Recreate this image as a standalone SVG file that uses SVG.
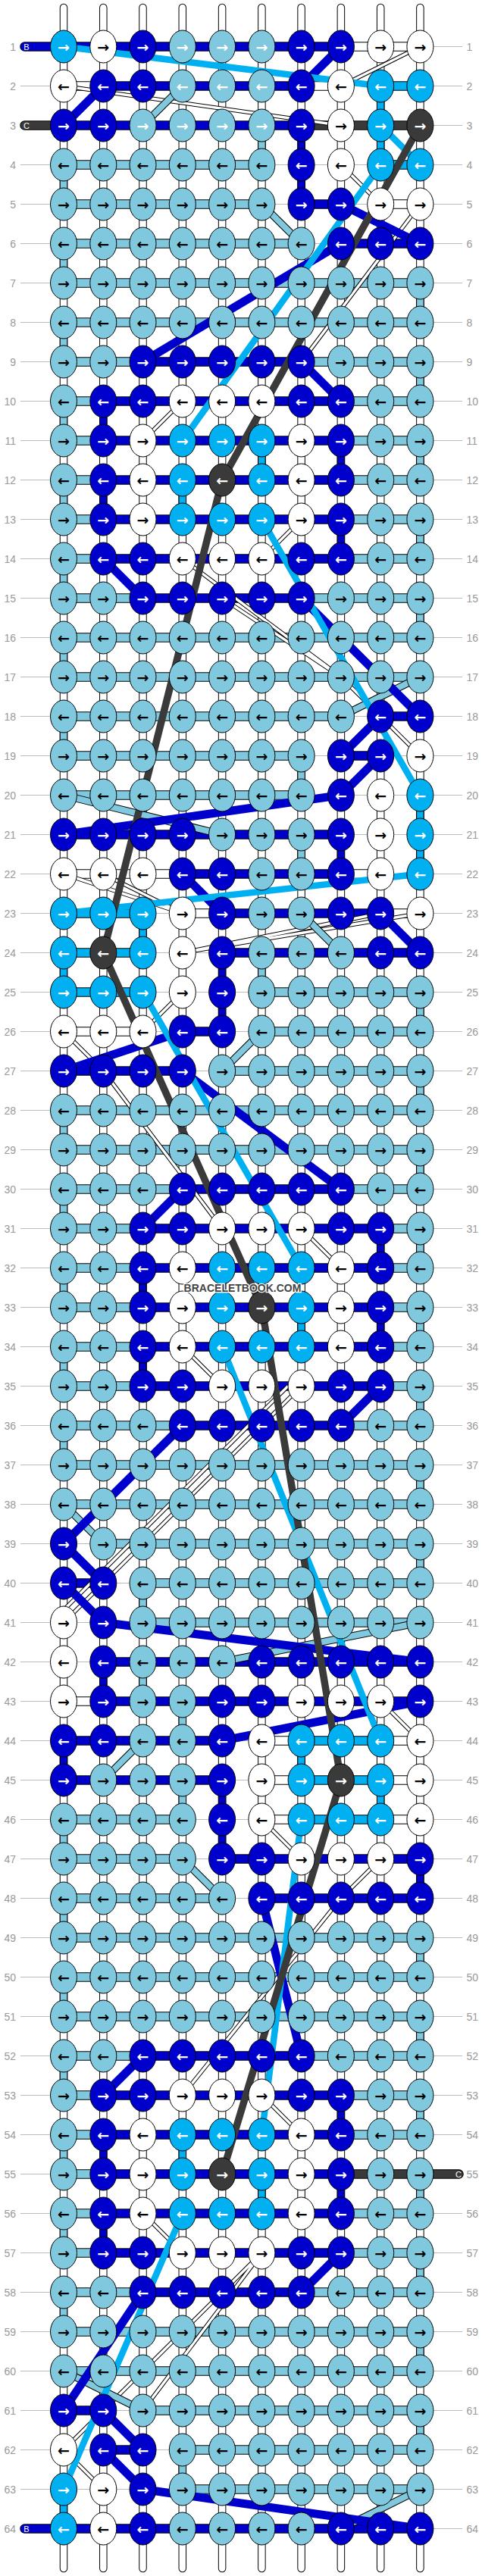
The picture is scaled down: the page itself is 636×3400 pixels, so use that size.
<svg xmlns="http://www.w3.org/2000/svg" width="636" height="3400" viewBox="0 0 636 3400">
<style>
.n ellipse{rx:17.5px;ry:21.5px;stroke:#000;stroke-width:1}
.n text{font-family:"DejaVu Sans",sans-serif;font-weight:bold;font-size:19px;text-anchor:middle;dominant-baseline:central}
.L ellipse,.l ellipse{fill:#80c8dd}.L text{fill:#000}.l text{fill:#fff}
.W ellipse{fill:#fff}.W text{fill:#000}
.D ellipse{fill:#0000cc}.D text{fill:#fff}
.C ellipse{fill:#00b0f0}.C text{fill:#fff}
.G ellipse{fill:#3a3a3a}.G text{fill:#fff}
.lab text{font-family:"Liberation Sans",Arial,sans-serif;font-size:14px;fill:#999;dominant-baseline:central}
#connectors{fill:none;stroke-linejoin:round}
.o1{stroke:#000;stroke-width:10.5}.f1{stroke-width:8.5}
.o2{stroke:#000;stroke-width:12.5}.f2{stroke-width:10.5}
.cL{stroke:#80c8dd}.cD{stroke:#0000cc}.cC{stroke:#00b0f0}.cG{stroke:#3a3a3a}.cW{stroke:#fff}
.rc{stroke-linecap:round}
.ow{stroke:#000;stroke-width:5.5}.fw{stroke:#fff;stroke-width:3.5}
.oL{stroke:#000;stroke-width:10}.fL{stroke:#80c8dd;stroke-width:8}
.dD{stroke:#0000cc;stroke-width:11}.dC{stroke:#00b0f0;stroke-width:8.5}.dG{stroke:#3a3a3a;stroke-width:9.5}
.stub{font-family:"Liberation Sans",Arial,sans-serif;font-size:11px;fill:#fff;text-anchor:middle;dominant-baseline:central}
.wm{font-family:"Liberation Sans",Arial,sans-serif;font-weight:bold;font-size:14px;fill:#444;stroke:#fff;stroke-width:2.5;paint-order:stroke;text-anchor:middle;dominant-baseline:central}
</style>
<defs>
<path id="cols" d="M84 10V3390M136.3 10V3390M188.5 10V3390M240.8 10V3390M293.1 10V3390M345.4 10V3390M397.6 10V3390M449.9 10V3390M502.2 10V3390M554.4 10V3390"/>
<path id="vC" d="M502.2 113.5V217.5M345.4 581.5V633.5M240.8 633.5V685.5M554.4 1049.5V1153.5M188.5 1205.5V1257.5M84 1257.5V1309.5M293.1 1673.5V1725.5M397.6 1725.5V1777.5M397.6 2297.5V2349.5M502.2 2349.5V2401.5M240.8 2817.5V2869.5M345.4 2869.5V2921.5M84 3285.5V3337.5"/>
<path id="vD" d="M397.6 165.5V269.5M136.3 529.5V581.5M449.9 581.5V633.5M136.3 633.5V685.5M449.9 685.5V737.5M449.9 1101.5V1153.5M293.1 1257.5V1361.5M502.2 1621.5V1673.5M188.5 1673.5V1725.5M502.2 1725.5V1777.5M188.5 1777.5V1829.5M136.3 2193.5V2245.5M84 2297.5V2349.5M293.1 2349.5V2453.5M554.4 2453.5V2505.5M449.9 2765.5V2817.5M136.3 2817.5V2869.5M449.9 2869.5V2921.5M136.3 2921.5V2973.5"/>
<path id="vL" d="M345.4 165.5V217.5M84 217.5V269.5M84 321.5V373.5M554.4 373.5V425.5M84 425.5V477.5M554.4 477.5V529.5M84 529.5V581.5M554.4 581.5V633.5M84 633.5V685.5M554.4 685.5V737.5M84 737.5V789.5M554.4 789.5V841.5M84 841.5V893.5M84 945.5V997.5M397.6 997.5V1049.5M397.6 1101.5V1153.5M345.4 1257.5V1309.5M554.4 1309.5V1361.5M554.4 1413.5V1465.5M84 1465.5V1517.5M554.4 1517.5V1569.5M84 1569.5V1621.5M554.4 1621.5V1673.5M84 1673.5V1725.5M554.4 1725.5V1777.5M84 1777.5V1829.5M554.4 1829.5V1881.5M84 1881.5V1933.5M554.4 1933.5V1985.5M554.4 2037.5V2089.5M188.5 2089.5V2141.5M188.5 2193.5V2245.5M240.8 2245.5V2297.5M240.8 2349.5V2401.5M84 2401.5V2453.5M84 2505.5V2557.5M554.4 2557.5V2609.5M84 2609.5V2661.5M554.4 2661.5V2713.5M84 2713.5V2765.5M554.4 2765.5V2817.5M84 2817.5V2869.5M554.4 2869.5V2921.5M84 2921.5V2973.5M554.4 2973.5V3025.5M84 3025.5V3077.5M554.4 3077.5V3129.5M554.4 3181.5V3233.5M240.8 3233.5V3285.5"/>
<path id="hL" d="M84 217.5H345.4M84 269.5H345.4M84 321.5H397.6M84 373.5H554.4M84 425.5H554.4M84 477.5H188.5M397.6 477.5H554.4M84 529.5H136.3M449.9 529.5H554.4M84 581.5H136.3M449.9 581.5H554.4M84 633.5H136.3M449.9 633.5H554.4M84 685.5H136.3M449.9 685.5H554.4M84 737.5H136.3M449.9 737.5H554.4M84 789.5H188.5M397.6 789.5H554.4M84 841.5H554.4M84 893.5H554.4M84 945.5H449.9M84 997.5H397.6M84 1049.5H397.6M345.4 1309.5H554.4M345.4 1361.5H554.4M293.1 1413.5H554.4M84 1465.5H554.4M84 1517.5H554.4M84 1569.5H240.8M449.9 1569.5H554.4M84 1621.5H188.5M502.2 1621.5H554.4M84 1673.5H188.5M502.2 1673.5H554.4M84 1725.5H188.5M502.2 1725.5H554.4M84 1777.5H188.5M502.2 1777.5H554.4M84 1829.5H188.5M502.2 1829.5H554.4M84 1881.5H240.8M449.9 1881.5H554.4M84 1933.5H554.4M84 1985.5H554.4M136.3 2037.5H554.4M188.5 2089.5H554.4M188.5 2141.5H554.4M84 2401.5H240.8M84 2453.5H240.8M84 2505.5H293.1M84 2557.5H554.4M84 2609.5H554.4M84 2661.5H554.4M84 2713.5H188.5M397.6 2713.5H554.4M84 2765.5H136.3M449.9 2765.5H554.4M84 2817.5H136.3M449.9 2817.5H554.4M84 2869.5H136.3M84 2921.5H136.3M449.9 2921.5H554.4M84 2973.5H136.3M449.9 2973.5H554.4M84 3025.5H188.5M397.6 3025.5H554.4M84 3077.5H554.4M84 3129.5H554.4M188.5 3181.5H554.4M240.8 3233.5H554.4M240.8 3285.5H554.4"/>
<path id="hD" d="M84 61.5H449.9M136.3 113.5H397.6M84 165.5H397.6M397.6 269.5H449.9M449.9 321.5H554.4M188.5 477.5H397.6M136.3 529.5H449.9M136.3 581.5H449.9M136.3 633.5H449.9M136.3 685.5H449.9M136.3 737.5H449.9M188.5 789.5H397.6M502.2 945.5H554.4M449.9 997.5H502.2M84 1101.5H449.9M240.8 1153.5H449.9M293.1 1205.5H502.2M293.1 1257.5H554.4M240.8 1361.5H293.1M84 1413.5H240.8M240.8 1569.5H449.9M188.5 1621.5H502.2M188.5 1673.5H502.2M188.5 1725.5H502.2M188.5 1777.5H502.2M188.5 1829.5H502.2M240.8 1881.5H449.9M84 2089.5H136.3M136.3 2193.5H554.4M136.3 2245.5H554.4M84 2297.5H293.1M84 2349.5H293.1M293.1 2453.5H554.4M345.4 2505.5H554.4M188.5 2713.5H397.6M136.3 2765.5H449.9M136.3 2817.5H449.9M136.3 2869.5H449.9M136.3 2921.5H449.9M136.3 2973.5H449.9M188.5 3025.5H397.6M84 3181.5H136.3M136.3 3233.5H188.5M84 3337.5H554.4"/>
<path id="hW" d="M449.9 61.5H554.4M84 113.5H136.3M397.6 113.5H449.9M502.2 269.5H554.4M84 1153.5H240.8M449.9 1153.5H502.2M240.8 1205.5H293.1M502.2 1205.5H554.4M84 1361.5H188.5M84 2245.5H136.3M345.4 2297.5H397.6M502.2 2297.5H554.4M345.4 2349.5H397.6M502.2 2349.5H554.4M345.4 2401.5H397.6M502.2 2401.5H554.4"/>
<path id="hC" d="M502.2 113.5H554.4M502.2 217.5H554.4M84 1205.5H188.5M84 1257.5H188.5M84 1309.5H188.5M397.6 2297.5H502.2M397.6 2349.5H502.2M397.6 2401.5H502.2"/>
<path id="hG" d="M397.6 165.5H554.4M449.9 2869.5H554.4"/>
<path id="sD" d="M32.5 61.5H84M32.5 3337.5H84"/>
<path id="sG" d="M32.5 165.5H84M554.4 2869.5H605.5"/>
<path id="dW" d="M554.4 61.5L449.9 113.5M84 113.5L449.9 165.5M449.9 217.5L502.2 269.5M554.4 269.5L397.6 477.5M240.8 529.5L188.5 581.5M397.6 685.5L345.4 737.5M240.8 737.5L449.9 893.5L554.4 997.5M293.1 789.5L449.9 893.5M84 1153.5L240.8 1205.5M136.3 1153.5L240.8 1205.5M554.4 1205.5L240.8 1257.5M502.2 1205.5L240.8 1257.5M240.8 1309.5L188.5 1361.5M84 1361.5L136.3 1413.5L293.1 1621.5M397.6 1621.5L449.9 1673.5M240.8 1777.5L293.1 1829.5M397.6 1829.5L84 2141.5M380 1829.5L84 2125M502.2 2245.5L554.4 2297.5M345.4 2401.5L397.6 2453.5M502.2 2453.5L449.9 2505.5L240.8 2765.5M345.4 2765.5L397.6 2817.5M188.5 2921.5L240.8 2973.5M345.4 2973.5L188.5 3181.5M345.4 2973.5L136.3 3181.5M136.3 3181.5L84 3233.5L136.3 3285.5"/>
<path id="dL" d="M240.8 113.5L188.5 165.5M345.4 269.5L397.6 321.5M554.4 893.5L449.9 945.5M84 1049.5L293.1 1101.5M397.6 1205.5L449.9 1257.5M345.4 1361.5L293.1 1413.5M84 1985.5L136.3 2037.5M554.4 2141.5L293.1 2193.5M188.5 2297.5L136.3 2349.5M240.8 2453.5L293.1 2505.5M84 3129.5L188.5 3181.5M554.4 3285.5L449.9 3337.5"/>
</defs>
<rect width="636" height="3400" fill="#fff"/>
<g id="rowlabels" class="lab">
<path d="M27 61.5H610M27 113.5H610M27 165.5H610M27 217.5H610M27 269.5H610M27 321.5H610M27 373.5H610M27 425.5H610M27 477.5H610M27 529.5H610M27 581.5H610M27 633.5H610M27 685.5H610M27 737.5H610M27 789.5H610M27 841.5H610M27 893.5H610M27 945.5H610M27 997.5H610M27 1049.5H610M27 1101.5H610M27 1153.5H610M27 1205.5H610M27 1257.5H610M27 1309.5H610M27 1361.5H610M27 1413.5H610M27 1465.5H610M27 1517.5H610M27 1569.5H610M27 1621.5H610M27 1673.5H610M27 1725.5H610M27 1777.5H610M27 1829.5H610M27 1881.5H610M27 1933.5H610M27 1985.5H610M27 2037.5H610M27 2089.5H610M27 2141.5H610M27 2193.5H610M27 2245.5H610M27 2297.5H610M27 2349.5H610M27 2401.5H610M27 2453.5H610M27 2505.5H610M27 2557.5H610M27 2609.5H610M27 2661.5H610M27 2713.5H610M27 2765.5H610M27 2817.5H610M27 2869.5H610M27 2921.5H610M27 2973.5H610M27 3025.5H610M27 3077.5H610M27 3129.5H610M27 3181.5H610M27 3233.5H610M27 3285.5H610M27 3337.5H610" stroke="#bbb" stroke-width="1" fill="none"/>
<g text-anchor="end">
<text x="21" y="61.5">1</text><text x="21" y="113.5">2</text><text x="21" y="165.5">3</text><text x="21" y="217.5">4</text><text x="21" y="269.5">5</text><text x="21" y="321.5">6</text><text x="21" y="373.5">7</text><text x="21" y="425.5">8</text><text x="21" y="477.5">9</text><text x="21" y="529.5">10</text><text x="21" y="581.5">11</text><text x="21" y="633.5">12</text><text x="21" y="685.5">13</text><text x="21" y="737.5">14</text><text x="21" y="789.5">15</text><text x="21" y="841.5">16</text><text x="21" y="893.5">17</text><text x="21" y="945.5">18</text><text x="21" y="997.5">19</text><text x="21" y="1049.5">20</text><text x="21" y="1101.5">21</text><text x="21" y="1153.5">22</text><text x="21" y="1205.5">23</text><text x="21" y="1257.5">24</text><text x="21" y="1309.5">25</text><text x="21" y="1361.5">26</text><text x="21" y="1413.5">27</text><text x="21" y="1465.5">28</text><text x="21" y="1517.5">29</text><text x="21" y="1569.5">30</text><text x="21" y="1621.5">31</text><text x="21" y="1673.5">32</text><text x="21" y="1725.5">33</text><text x="21" y="1777.5">34</text><text x="21" y="1829.5">35</text><text x="21" y="1881.5">36</text><text x="21" y="1933.5">37</text><text x="21" y="1985.5">38</text><text x="21" y="2037.5">39</text><text x="21" y="2089.5">40</text><text x="21" y="2141.5">41</text><text x="21" y="2193.5">42</text><text x="21" y="2245.5">43</text><text x="21" y="2297.5">44</text><text x="21" y="2349.5">45</text><text x="21" y="2401.5">46</text><text x="21" y="2453.5">47</text><text x="21" y="2505.5">48</text><text x="21" y="2557.5">49</text><text x="21" y="2609.5">50</text><text x="21" y="2661.5">51</text><text x="21" y="2713.5">52</text><text x="21" y="2765.5">53</text><text x="21" y="2817.5">54</text><text x="21" y="2869.5">55</text><text x="21" y="2921.5">56</text><text x="21" y="2973.5">57</text><text x="21" y="3025.5">58</text><text x="21" y="3077.5">59</text><text x="21" y="3129.5">60</text><text x="21" y="3181.5">61</text><text x="21" y="3233.5">62</text><text x="21" y="3285.5">63</text><text x="21" y="3337.5">64</text>
</g>
<g text-anchor="start">
<text x="615.5" y="61.5">1</text><text x="615.5" y="113.5">2</text><text x="615.5" y="165.5">3</text><text x="615.5" y="217.5">4</text><text x="615.5" y="269.5">5</text><text x="615.5" y="321.5">6</text><text x="615.5" y="373.5">7</text><text x="615.5" y="425.5">8</text><text x="615.5" y="477.5">9</text><text x="615.5" y="529.5">10</text><text x="615.5" y="581.5">11</text><text x="615.5" y="633.5">12</text><text x="615.5" y="685.5">13</text><text x="615.5" y="737.5">14</text><text x="615.5" y="789.5">15</text><text x="615.5" y="841.5">16</text><text x="615.5" y="893.5">17</text><text x="615.5" y="945.5">18</text><text x="615.5" y="997.5">19</text><text x="615.5" y="1049.5">20</text><text x="615.5" y="1101.5">21</text><text x="615.5" y="1153.5">22</text><text x="615.5" y="1205.5">23</text><text x="615.5" y="1257.5">24</text><text x="615.5" y="1309.5">25</text><text x="615.5" y="1361.5">26</text><text x="615.5" y="1413.5">27</text><text x="615.5" y="1465.5">28</text><text x="615.5" y="1517.5">29</text><text x="615.5" y="1569.5">30</text><text x="615.5" y="1621.5">31</text><text x="615.5" y="1673.5">32</text><text x="615.5" y="1725.5">33</text><text x="615.5" y="1777.5">34</text><text x="615.5" y="1829.5">35</text><text x="615.5" y="1881.5">36</text><text x="615.5" y="1933.5">37</text><text x="615.5" y="1985.5">38</text><text x="615.5" y="2037.5">39</text><text x="615.5" y="2089.5">40</text><text x="615.5" y="2141.5">41</text><text x="615.5" y="2193.5">42</text><text x="615.5" y="2245.5">43</text><text x="615.5" y="2297.5">44</text><text x="615.5" y="2349.5">45</text><text x="615.5" y="2401.5">46</text><text x="615.5" y="2453.5">47</text><text x="615.5" y="2505.5">48</text><text x="615.5" y="2557.5">49</text><text x="615.5" y="2609.5">50</text><text x="615.5" y="2661.5">51</text><text x="615.5" y="2713.5">52</text><text x="615.5" y="2765.5">53</text><text x="615.5" y="2817.5">54</text><text x="615.5" y="2869.5">55</text><text x="615.5" y="2921.5">56</text><text x="615.5" y="2973.5">57</text><text x="615.5" y="3025.5">58</text><text x="615.5" y="3077.5">59</text><text x="615.5" y="3129.5">60</text><text x="615.5" y="3181.5">61</text><text x="615.5" y="3233.5">62</text><text x="615.5" y="3285.5">63</text><text x="615.5" y="3337.5">64</text>
</g>
</g>
<g id="connectors">
<use href="#cols" class="o1 rc"/><use href="#cols" class="f1 cW rc"/>
<use href="#vC" class="o1"/><use href="#vD" class="o1"/><use href="#vL" class="o1"/>
<use href="#vC" class="f1 cC"/><use href="#vD" class="f1 cD"/><use href="#vL" class="f1 cL"/>
<use href="#hL" class="o2"/><use href="#hD" class="o2"/><use href="#hW" class="o2"/><use href="#hC" class="o2"/><use href="#hG" class="o2"/>
<use href="#hL" class="f2 cL"/><use href="#hD" class="f2 cD"/><use href="#hW" class="f2 cW"/><use href="#hC" class="f2 cC"/><use href="#hG" class="f2 cG"/>
<use href="#sD" class="o2 rc"/><use href="#sG" class="o2 rc"/><use href="#sD" class="f2 cD rc"/><use href="#sG" class="f2 cG rc"/>
<use href="#dW" class="ow"/><use href="#dW" class="fw"/>
<use href="#dL" class="oL"/><use href="#dL" class="fL"/>
<path class="dD" d="M449.9 61.5L397.6 113.5M136.3 113.5L84 165.5M449.9 269.5L554.4 321.5M449.9 321.5L188.5 477.5M397.6 477.5L449.9 529.5M136.3 737.5L188.5 789.5M397.6 789.5L554.4 945.5M502.2 945.5L449.9 997.5M502.2 997.5L449.9 1049.5M449.9 1049.5L84 1101.5M240.8 1153.5L293.1 1205.5M502.2 1205.5L554.4 1257.5M240.8 1361.5L84 1413.5M240.8 1413.5L449.9 1569.5M240.8 1569.5L188.5 1621.5M502.2 1829.5L449.9 1881.5M240.8 1881.5L84 2037.5L136.3 2089.5M84 2089.5L136.3 2141.5L554.4 2193.5M554.4 2245.5L293.1 2297.5M345.4 2505.5L397.6 2713.5M188.5 2713.5L136.3 2765.5M449.9 2973.5L397.6 3025.5M188.5 3025.5L84 3181.5M136.3 3181.5L188.5 3233.5M136.3 3233.5L188.5 3285.5L554.4 3337.5"/>
<path class="dC" d="M84 61.5L502.2 113.5M502.2 165.5L554.4 217.5M502.2 217.5L240.8 581.5M345.4 685.5L554.4 1049.5M554.4 1153.5L84 1205.5M188.5 1309.5L397.6 1673.5M293.1 1777.5L502.2 2297.5M397.6 2401.5L345.4 2817.5M240.8 2921.5L84 3285.5"/>
<path class="dG" d="M554.4 165.5L293.1 633.5L136.3 1257.5L345.4 1725.5L449.9 2349.5L293.1 2869.5"/>
<text class="stub" x="35" y="61.5">B</text><text class="stub" x="35" y="165.5">C</text><text class="stub" x="35" y="3337.5">B</text><text class="stub" x="605" y="2869.5">C</text>
</g>
<g id="nodes">
<g id="row1" class="n" transform="translate(0 61.5)"><g id="n1-1" class="C"><ellipse cx="84"/><text x="84">→</text></g><g id="n1-2" class="W"><ellipse cx="136.3"/><text x="136.3">→</text></g><g id="n1-3" class="D"><ellipse cx="188.5"/><text x="188.5">→</text></g><g id="n1-4" class="l"><ellipse cx="240.8"/><text x="240.8">→</text></g><g id="n1-5" class="l"><ellipse cx="293.1"/><text x="293.1">→</text></g><g id="n1-6" class="l"><ellipse cx="345.4"/><text x="345.4">→</text></g><g id="n1-7" class="D"><ellipse cx="397.6"/><text x="397.6">→</text></g><g id="n1-8" class="D"><ellipse cx="449.9"/><text x="449.9">→</text></g><g id="n1-9" class="W"><ellipse cx="502.2"/><text x="502.2">→</text></g><g id="n1-10" class="W"><ellipse cx="554.4"/><text x="554.4">→</text></g></g>
<g id="row2" class="n" transform="translate(0 113.5)"><g id="n2-1" class="W"><ellipse cx="84"/><text x="84">←</text></g><g id="n2-2" class="D"><ellipse cx="136.3"/><text x="136.3">←</text></g><g id="n2-3" class="D"><ellipse cx="188.5"/><text x="188.5">←</text></g><g id="n2-4" class="l"><ellipse cx="240.8"/><text x="240.8">←</text></g><g id="n2-5" class="l"><ellipse cx="293.1"/><text x="293.1">←</text></g><g id="n2-6" class="l"><ellipse cx="345.4"/><text x="345.4">←</text></g><g id="n2-7" class="D"><ellipse cx="397.6"/><text x="397.6">←</text></g><g id="n2-8" class="W"><ellipse cx="449.9"/><text x="449.9">←</text></g><g id="n2-9" class="C"><ellipse cx="502.2"/><text x="502.2">←</text></g><g id="n2-10" class="C"><ellipse cx="554.4"/><text x="554.4">←</text></g></g>
<g id="row3" class="n" transform="translate(0 165.5)"><g id="n3-1" class="D"><ellipse cx="84"/><text x="84">→</text></g><g id="n3-2" class="D"><ellipse cx="136.3"/><text x="136.3">→</text></g><g id="n3-3" class="l"><ellipse cx="188.5"/><text x="188.5">→</text></g><g id="n3-4" class="l"><ellipse cx="240.8"/><text x="240.8">→</text></g><g id="n3-5" class="l"><ellipse cx="293.1"/><text x="293.1">→</text></g><g id="n3-6" class="l"><ellipse cx="345.4"/><text x="345.4">→</text></g><g id="n3-7" class="D"><ellipse cx="397.6"/><text x="397.6">→</text></g><g id="n3-8" class="W"><ellipse cx="449.9"/><text x="449.9">→</text></g><g id="n3-9" class="C"><ellipse cx="502.2"/><text x="502.2">→</text></g><g id="n3-10" class="G"><ellipse cx="554.4"/><text x="554.4">→</text></g></g>
<g id="row4" class="n" transform="translate(0 217.5)"><g id="n4-1" class="L"><ellipse cx="84"/><text x="84">←</text></g><g id="n4-2" class="L"><ellipse cx="136.3"/><text x="136.3">←</text></g><g id="n4-3" class="L"><ellipse cx="188.5"/><text x="188.5">←</text></g><g id="n4-4" class="L"><ellipse cx="240.8"/><text x="240.8">←</text></g><g id="n4-5" class="L"><ellipse cx="293.1"/><text x="293.1">←</text></g><g id="n4-6" class="L"><ellipse cx="345.4"/><text x="345.4">←</text></g><g id="n4-7" class="D"><ellipse cx="397.6"/><text x="397.6">←</text></g><g id="n4-8" class="W"><ellipse cx="449.9"/><text x="449.9">←</text></g><g id="n4-9" class="C"><ellipse cx="502.2"/><text x="502.2">←</text></g><g id="n4-10" class="C"><ellipse cx="554.4"/><text x="554.4">←</text></g></g>
<g id="row5" class="n" transform="translate(0 269.5)"><g id="n5-1" class="L"><ellipse cx="84"/><text x="84">→</text></g><g id="n5-2" class="L"><ellipse cx="136.3"/><text x="136.3">→</text></g><g id="n5-3" class="L"><ellipse cx="188.5"/><text x="188.5">→</text></g><g id="n5-4" class="L"><ellipse cx="240.8"/><text x="240.8">→</text></g><g id="n5-5" class="L"><ellipse cx="293.1"/><text x="293.1">→</text></g><g id="n5-6" class="L"><ellipse cx="345.4"/><text x="345.4">→</text></g><g id="n5-7" class="D"><ellipse cx="397.6"/><text x="397.6">→</text></g><g id="n5-8" class="D"><ellipse cx="449.9"/><text x="449.9">→</text></g><g id="n5-9" class="W"><ellipse cx="502.2"/><text x="502.2">→</text></g><g id="n5-10" class="W"><ellipse cx="554.4"/><text x="554.4">→</text></g></g>
<g id="row6" class="n" transform="translate(0 321.5)"><g id="n6-1" class="L"><ellipse cx="84"/><text x="84">←</text></g><g id="n6-2" class="L"><ellipse cx="136.3"/><text x="136.3">←</text></g><g id="n6-3" class="L"><ellipse cx="188.5"/><text x="188.5">←</text></g><g id="n6-4" class="L"><ellipse cx="240.8"/><text x="240.8">←</text></g><g id="n6-5" class="L"><ellipse cx="293.1"/><text x="293.1">←</text></g><g id="n6-6" class="L"><ellipse cx="345.4"/><text x="345.4">←</text></g><g id="n6-7" class="L"><ellipse cx="397.6"/><text x="397.6">←</text></g><g id="n6-8" class="D"><ellipse cx="449.9"/><text x="449.9">←</text></g><g id="n6-9" class="D"><ellipse cx="502.2"/><text x="502.2">←</text></g><g id="n6-10" class="D"><ellipse cx="554.4"/><text x="554.4">←</text></g></g>
<g id="row7" class="n" transform="translate(0 373.5)"><g id="n7-1" class="L"><ellipse cx="84"/><text x="84">→</text></g><g id="n7-2" class="L"><ellipse cx="136.3"/><text x="136.3">→</text></g><g id="n7-3" class="L"><ellipse cx="188.5"/><text x="188.5">→</text></g><g id="n7-4" class="L"><ellipse cx="240.8"/><text x="240.8">→</text></g><g id="n7-5" class="L"><ellipse cx="293.1"/><text x="293.1">→</text></g><g id="n7-6" class="L"><ellipse cx="345.4"/><text x="345.4">→</text></g><g id="n7-7" class="L"><ellipse cx="397.6"/><text x="397.6">→</text></g><g id="n7-8" class="L"><ellipse cx="449.9"/><text x="449.9">→</text></g><g id="n7-9" class="L"><ellipse cx="502.2"/><text x="502.2">→</text></g><g id="n7-10" class="L"><ellipse cx="554.4"/><text x="554.4">→</text></g></g>
<g id="row8" class="n" transform="translate(0 425.5)"><g id="n8-1" class="L"><ellipse cx="84"/><text x="84">←</text></g><g id="n8-2" class="L"><ellipse cx="136.3"/><text x="136.3">←</text></g><g id="n8-3" class="L"><ellipse cx="188.5"/><text x="188.5">←</text></g><g id="n8-4" class="L"><ellipse cx="240.8"/><text x="240.8">←</text></g><g id="n8-5" class="L"><ellipse cx="293.1"/><text x="293.1">←</text></g><g id="n8-6" class="L"><ellipse cx="345.4"/><text x="345.4">←</text></g><g id="n8-7" class="L"><ellipse cx="397.6"/><text x="397.6">←</text></g><g id="n8-8" class="L"><ellipse cx="449.9"/><text x="449.9">←</text></g><g id="n8-9" class="L"><ellipse cx="502.2"/><text x="502.2">←</text></g><g id="n8-10" class="L"><ellipse cx="554.4"/><text x="554.4">←</text></g></g>
<g id="row9" class="n" transform="translate(0 477.5)"><g id="n9-1" class="L"><ellipse cx="84"/><text x="84">→</text></g><g id="n9-2" class="L"><ellipse cx="136.3"/><text x="136.3">→</text></g><g id="n9-3" class="D"><ellipse cx="188.5"/><text x="188.5">→</text></g><g id="n9-4" class="D"><ellipse cx="240.8"/><text x="240.8">→</text></g><g id="n9-5" class="D"><ellipse cx="293.1"/><text x="293.1">→</text></g><g id="n9-6" class="D"><ellipse cx="345.4"/><text x="345.4">→</text></g><g id="n9-7" class="D"><ellipse cx="397.6"/><text x="397.6">→</text></g><g id="n9-8" class="L"><ellipse cx="449.9"/><text x="449.9">→</text></g><g id="n9-9" class="L"><ellipse cx="502.2"/><text x="502.2">→</text></g><g id="n9-10" class="L"><ellipse cx="554.4"/><text x="554.4">→</text></g></g>
<g id="row10" class="n" transform="translate(0 529.5)"><g id="n10-1" class="L"><ellipse cx="84"/><text x="84">←</text></g><g id="n10-2" class="D"><ellipse cx="136.3"/><text x="136.3">←</text></g><g id="n10-3" class="D"><ellipse cx="188.5"/><text x="188.5">←</text></g><g id="n10-4" class="W"><ellipse cx="240.8"/><text x="240.8">←</text></g><g id="n10-5" class="W"><ellipse cx="293.1"/><text x="293.1">←</text></g><g id="n10-6" class="W"><ellipse cx="345.4"/><text x="345.4">←</text></g><g id="n10-7" class="D"><ellipse cx="397.6"/><text x="397.6">←</text></g><g id="n10-8" class="D"><ellipse cx="449.9"/><text x="449.9">←</text></g><g id="n10-9" class="L"><ellipse cx="502.2"/><text x="502.2">←</text></g><g id="n10-10" class="L"><ellipse cx="554.4"/><text x="554.4">←</text></g></g>
<g id="row11" class="n" transform="translate(0 581.5)"><g id="n11-1" class="L"><ellipse cx="84"/><text x="84">→</text></g><g id="n11-2" class="D"><ellipse cx="136.3"/><text x="136.3">→</text></g><g id="n11-3" class="W"><ellipse cx="188.5"/><text x="188.5">→</text></g><g id="n11-4" class="C"><ellipse cx="240.8"/><text x="240.8">→</text></g><g id="n11-5" class="C"><ellipse cx="293.1"/><text x="293.1">→</text></g><g id="n11-6" class="C"><ellipse cx="345.4"/><text x="345.4">→</text></g><g id="n11-7" class="W"><ellipse cx="397.6"/><text x="397.6">→</text></g><g id="n11-8" class="D"><ellipse cx="449.9"/><text x="449.9">→</text></g><g id="n11-9" class="L"><ellipse cx="502.2"/><text x="502.2">→</text></g><g id="n11-10" class="L"><ellipse cx="554.4"/><text x="554.4">→</text></g></g>
<g id="row12" class="n" transform="translate(0 633.5)"><g id="n12-1" class="L"><ellipse cx="84"/><text x="84">←</text></g><g id="n12-2" class="D"><ellipse cx="136.3"/><text x="136.3">←</text></g><g id="n12-3" class="W"><ellipse cx="188.5"/><text x="188.5">←</text></g><g id="n12-4" class="C"><ellipse cx="240.8"/><text x="240.8">←</text></g><g id="n12-5" class="G"><ellipse cx="293.1"/><text x="293.1">←</text></g><g id="n12-6" class="C"><ellipse cx="345.4"/><text x="345.4">←</text></g><g id="n12-7" class="W"><ellipse cx="397.6"/><text x="397.6">←</text></g><g id="n12-8" class="D"><ellipse cx="449.9"/><text x="449.9">←</text></g><g id="n12-9" class="L"><ellipse cx="502.2"/><text x="502.2">←</text></g><g id="n12-10" class="L"><ellipse cx="554.4"/><text x="554.4">←</text></g></g>
<g id="row13" class="n" transform="translate(0 685.5)"><g id="n13-1" class="L"><ellipse cx="84"/><text x="84">→</text></g><g id="n13-2" class="D"><ellipse cx="136.3"/><text x="136.3">→</text></g><g id="n13-3" class="W"><ellipse cx="188.5"/><text x="188.5">→</text></g><g id="n13-4" class="C"><ellipse cx="240.8"/><text x="240.8">→</text></g><g id="n13-5" class="C"><ellipse cx="293.1"/><text x="293.1">→</text></g><g id="n13-6" class="C"><ellipse cx="345.4"/><text x="345.4">→</text></g><g id="n13-7" class="W"><ellipse cx="397.6"/><text x="397.6">→</text></g><g id="n13-8" class="D"><ellipse cx="449.9"/><text x="449.9">→</text></g><g id="n13-9" class="L"><ellipse cx="502.2"/><text x="502.2">→</text></g><g id="n13-10" class="L"><ellipse cx="554.4"/><text x="554.4">→</text></g></g>
<g id="row14" class="n" transform="translate(0 737.5)"><g id="n14-1" class="L"><ellipse cx="84"/><text x="84">←</text></g><g id="n14-2" class="D"><ellipse cx="136.3"/><text x="136.3">←</text></g><g id="n14-3" class="D"><ellipse cx="188.5"/><text x="188.5">←</text></g><g id="n14-4" class="W"><ellipse cx="240.8"/><text x="240.8">←</text></g><g id="n14-5" class="W"><ellipse cx="293.1"/><text x="293.1">←</text></g><g id="n14-6" class="W"><ellipse cx="345.4"/><text x="345.4">←</text></g><g id="n14-7" class="D"><ellipse cx="397.6"/><text x="397.6">←</text></g><g id="n14-8" class="D"><ellipse cx="449.9"/><text x="449.9">←</text></g><g id="n14-9" class="L"><ellipse cx="502.2"/><text x="502.2">←</text></g><g id="n14-10" class="L"><ellipse cx="554.4"/><text x="554.4">←</text></g></g>
<g id="row15" class="n" transform="translate(0 789.5)"><g id="n15-1" class="L"><ellipse cx="84"/><text x="84">→</text></g><g id="n15-2" class="L"><ellipse cx="136.3"/><text x="136.3">→</text></g><g id="n15-3" class="D"><ellipse cx="188.5"/><text x="188.5">→</text></g><g id="n15-4" class="D"><ellipse cx="240.8"/><text x="240.8">→</text></g><g id="n15-5" class="D"><ellipse cx="293.1"/><text x="293.1">→</text></g><g id="n15-6" class="D"><ellipse cx="345.4"/><text x="345.4">→</text></g><g id="n15-7" class="D"><ellipse cx="397.6"/><text x="397.6">→</text></g><g id="n15-8" class="L"><ellipse cx="449.9"/><text x="449.9">→</text></g><g id="n15-9" class="L"><ellipse cx="502.2"/><text x="502.2">→</text></g><g id="n15-10" class="L"><ellipse cx="554.4"/><text x="554.4">→</text></g></g>
<g id="row16" class="n" transform="translate(0 841.5)"><g id="n16-1" class="L"><ellipse cx="84"/><text x="84">←</text></g><g id="n16-2" class="L"><ellipse cx="136.3"/><text x="136.3">←</text></g><g id="n16-3" class="L"><ellipse cx="188.5"/><text x="188.5">←</text></g><g id="n16-4" class="L"><ellipse cx="240.8"/><text x="240.8">←</text></g><g id="n16-5" class="L"><ellipse cx="293.1"/><text x="293.1">←</text></g><g id="n16-6" class="L"><ellipse cx="345.4"/><text x="345.4">←</text></g><g id="n16-7" class="L"><ellipse cx="397.6"/><text x="397.6">←</text></g><g id="n16-8" class="L"><ellipse cx="449.9"/><text x="449.9">←</text></g><g id="n16-9" class="L"><ellipse cx="502.2"/><text x="502.2">←</text></g><g id="n16-10" class="L"><ellipse cx="554.4"/><text x="554.4">←</text></g></g>
<g id="row17" class="n" transform="translate(0 893.5)"><g id="n17-1" class="L"><ellipse cx="84"/><text x="84">→</text></g><g id="n17-2" class="L"><ellipse cx="136.3"/><text x="136.3">→</text></g><g id="n17-3" class="L"><ellipse cx="188.5"/><text x="188.5">→</text></g><g id="n17-4" class="L"><ellipse cx="240.8"/><text x="240.8">→</text></g><g id="n17-5" class="L"><ellipse cx="293.1"/><text x="293.1">→</text></g><g id="n17-6" class="L"><ellipse cx="345.4"/><text x="345.4">→</text></g><g id="n17-7" class="L"><ellipse cx="397.6"/><text x="397.6">→</text></g><g id="n17-8" class="L"><ellipse cx="449.9"/><text x="449.9">→</text></g><g id="n17-9" class="L"><ellipse cx="502.2"/><text x="502.2">→</text></g><g id="n17-10" class="L"><ellipse cx="554.4"/><text x="554.4">→</text></g></g>
<g id="row18" class="n" transform="translate(0 945.5)"><g id="n18-1" class="L"><ellipse cx="84"/><text x="84">←</text></g><g id="n18-2" class="L"><ellipse cx="136.3"/><text x="136.3">←</text></g><g id="n18-3" class="L"><ellipse cx="188.5"/><text x="188.5">←</text></g><g id="n18-4" class="L"><ellipse cx="240.8"/><text x="240.8">←</text></g><g id="n18-5" class="L"><ellipse cx="293.1"/><text x="293.1">←</text></g><g id="n18-6" class="L"><ellipse cx="345.4"/><text x="345.4">←</text></g><g id="n18-7" class="L"><ellipse cx="397.6"/><text x="397.6">←</text></g><g id="n18-8" class="L"><ellipse cx="449.9"/><text x="449.9">←</text></g><g id="n18-9" class="D"><ellipse cx="502.2"/><text x="502.2">←</text></g><g id="n18-10" class="D"><ellipse cx="554.4"/><text x="554.4">←</text></g></g>
<g id="row19" class="n" transform="translate(0 997.5)"><g id="n19-1" class="L"><ellipse cx="84"/><text x="84">→</text></g><g id="n19-2" class="L"><ellipse cx="136.3"/><text x="136.3">→</text></g><g id="n19-3" class="L"><ellipse cx="188.5"/><text x="188.5">→</text></g><g id="n19-4" class="L"><ellipse cx="240.8"/><text x="240.8">→</text></g><g id="n19-5" class="L"><ellipse cx="293.1"/><text x="293.1">→</text></g><g id="n19-6" class="L"><ellipse cx="345.4"/><text x="345.4">→</text></g><g id="n19-7" class="L"><ellipse cx="397.6"/><text x="397.6">→</text></g><g id="n19-8" class="D"><ellipse cx="449.9"/><text x="449.9">→</text></g><g id="n19-9" class="D"><ellipse cx="502.2"/><text x="502.2">→</text></g><g id="n19-10" class="W"><ellipse cx="554.4"/><text x="554.4">→</text></g></g>
<g id="row20" class="n" transform="translate(0 1049.5)"><g id="n20-1" class="L"><ellipse cx="84"/><text x="84">←</text></g><g id="n20-2" class="L"><ellipse cx="136.3"/><text x="136.3">←</text></g><g id="n20-3" class="L"><ellipse cx="188.5"/><text x="188.5">←</text></g><g id="n20-4" class="L"><ellipse cx="240.8"/><text x="240.8">←</text></g><g id="n20-5" class="L"><ellipse cx="293.1"/><text x="293.1">←</text></g><g id="n20-6" class="L"><ellipse cx="345.4"/><text x="345.4">←</text></g><g id="n20-7" class="L"><ellipse cx="397.6"/><text x="397.6">←</text></g><g id="n20-8" class="D"><ellipse cx="449.9"/><text x="449.9">←</text></g><g id="n20-9" class="W"><ellipse cx="502.2"/><text x="502.2">←</text></g><g id="n20-10" class="C"><ellipse cx="554.4"/><text x="554.4">←</text></g></g>
<g id="row21" class="n" transform="translate(0 1101.5)"><g id="n21-1" class="D"><ellipse cx="84"/><text x="84">→</text></g><g id="n21-2" class="D"><ellipse cx="136.3"/><text x="136.3">→</text></g><g id="n21-3" class="D"><ellipse cx="188.5"/><text x="188.5">→</text></g><g id="n21-4" class="D"><ellipse cx="240.8"/><text x="240.8">→</text></g><g id="n21-5" class="L"><ellipse cx="293.1"/><text x="293.1">→</text></g><g id="n21-6" class="L"><ellipse cx="345.4"/><text x="345.4">→</text></g><g id="n21-7" class="L"><ellipse cx="397.6"/><text x="397.6">→</text></g><g id="n21-8" class="D"><ellipse cx="449.9"/><text x="449.9">→</text></g><g id="n21-9" class="W"><ellipse cx="502.2"/><text x="502.2">→</text></g><g id="n21-10" class="C"><ellipse cx="554.4"/><text x="554.4">→</text></g></g>
<g id="row22" class="n" transform="translate(0 1153.5)"><g id="n22-1" class="W"><ellipse cx="84"/><text x="84">←</text></g><g id="n22-2" class="W"><ellipse cx="136.3"/><text x="136.3">←</text></g><g id="n22-3" class="W"><ellipse cx="188.5"/><text x="188.5">←</text></g><g id="n22-4" class="D"><ellipse cx="240.8"/><text x="240.8">←</text></g><g id="n22-5" class="D"><ellipse cx="293.1"/><text x="293.1">←</text></g><g id="n22-6" class="L"><ellipse cx="345.4"/><text x="345.4">←</text></g><g id="n22-7" class="L"><ellipse cx="397.6"/><text x="397.6">←</text></g><g id="n22-8" class="D"><ellipse cx="449.9"/><text x="449.9">←</text></g><g id="n22-9" class="W"><ellipse cx="502.2"/><text x="502.2">←</text></g><g id="n22-10" class="C"><ellipse cx="554.4"/><text x="554.4">←</text></g></g>
<g id="row23" class="n" transform="translate(0 1205.5)"><g id="n23-1" class="C"><ellipse cx="84"/><text x="84">→</text></g><g id="n23-2" class="C"><ellipse cx="136.3"/><text x="136.3">→</text></g><g id="n23-3" class="C"><ellipse cx="188.5"/><text x="188.5">→</text></g><g id="n23-4" class="W"><ellipse cx="240.8"/><text x="240.8">→</text></g><g id="n23-5" class="D"><ellipse cx="293.1"/><text x="293.1">→</text></g><g id="n23-6" class="L"><ellipse cx="345.4"/><text x="345.4">→</text></g><g id="n23-7" class="L"><ellipse cx="397.6"/><text x="397.6">→</text></g><g id="n23-8" class="D"><ellipse cx="449.9"/><text x="449.9">→</text></g><g id="n23-9" class="D"><ellipse cx="502.2"/><text x="502.2">→</text></g><g id="n23-10" class="W"><ellipse cx="554.4"/><text x="554.4">→</text></g></g>
<g id="row24" class="n" transform="translate(0 1257.5)"><g id="n24-1" class="C"><ellipse cx="84"/><text x="84">←</text></g><g id="n24-2" class="G"><ellipse cx="136.3"/><text x="136.3">←</text></g><g id="n24-3" class="C"><ellipse cx="188.5"/><text x="188.5">←</text></g><g id="n24-4" class="W"><ellipse cx="240.8"/><text x="240.8">←</text></g><g id="n24-5" class="D"><ellipse cx="293.1"/><text x="293.1">←</text></g><g id="n24-6" class="L"><ellipse cx="345.4"/><text x="345.4">←</text></g><g id="n24-7" class="L"><ellipse cx="397.6"/><text x="397.6">←</text></g><g id="n24-8" class="L"><ellipse cx="449.9"/><text x="449.9">←</text></g><g id="n24-9" class="D"><ellipse cx="502.2"/><text x="502.2">←</text></g><g id="n24-10" class="D"><ellipse cx="554.4"/><text x="554.4">←</text></g></g>
<g id="row25" class="n" transform="translate(0 1309.5)"><g id="n25-1" class="C"><ellipse cx="84"/><text x="84">→</text></g><g id="n25-2" class="C"><ellipse cx="136.3"/><text x="136.3">→</text></g><g id="n25-3" class="C"><ellipse cx="188.5"/><text x="188.5">→</text></g><g id="n25-4" class="W"><ellipse cx="240.8"/><text x="240.8">→</text></g><g id="n25-5" class="D"><ellipse cx="293.1"/><text x="293.1">→</text></g><g id="n25-6" class="L"><ellipse cx="345.4"/><text x="345.4">→</text></g><g id="n25-7" class="L"><ellipse cx="397.6"/><text x="397.6">→</text></g><g id="n25-8" class="L"><ellipse cx="449.9"/><text x="449.9">→</text></g><g id="n25-9" class="L"><ellipse cx="502.2"/><text x="502.2">→</text></g><g id="n25-10" class="L"><ellipse cx="554.4"/><text x="554.4">→</text></g></g>
<g id="row26" class="n" transform="translate(0 1361.5)"><g id="n26-1" class="W"><ellipse cx="84"/><text x="84">←</text></g><g id="n26-2" class="W"><ellipse cx="136.3"/><text x="136.3">←</text></g><g id="n26-3" class="W"><ellipse cx="188.5"/><text x="188.5">←</text></g><g id="n26-4" class="D"><ellipse cx="240.8"/><text x="240.8">←</text></g><g id="n26-5" class="D"><ellipse cx="293.1"/><text x="293.1">←</text></g><g id="n26-6" class="L"><ellipse cx="345.4"/><text x="345.4">←</text></g><g id="n26-7" class="L"><ellipse cx="397.6"/><text x="397.6">←</text></g><g id="n26-8" class="L"><ellipse cx="449.9"/><text x="449.9">←</text></g><g id="n26-9" class="L"><ellipse cx="502.2"/><text x="502.2">←</text></g><g id="n26-10" class="L"><ellipse cx="554.4"/><text x="554.4">←</text></g></g>
<g id="row27" class="n" transform="translate(0 1413.5)"><g id="n27-1" class="D"><ellipse cx="84"/><text x="84">→</text></g><g id="n27-2" class="D"><ellipse cx="136.3"/><text x="136.3">→</text></g><g id="n27-3" class="D"><ellipse cx="188.5"/><text x="188.5">→</text></g><g id="n27-4" class="D"><ellipse cx="240.8"/><text x="240.8">→</text></g><g id="n27-5" class="L"><ellipse cx="293.1"/><text x="293.1">→</text></g><g id="n27-6" class="L"><ellipse cx="345.4"/><text x="345.4">→</text></g><g id="n27-7" class="L"><ellipse cx="397.6"/><text x="397.6">→</text></g><g id="n27-8" class="L"><ellipse cx="449.9"/><text x="449.9">→</text></g><g id="n27-9" class="L"><ellipse cx="502.2"/><text x="502.2">→</text></g><g id="n27-10" class="L"><ellipse cx="554.4"/><text x="554.4">→</text></g></g>
<g id="row28" class="n" transform="translate(0 1465.5)"><g id="n28-1" class="L"><ellipse cx="84"/><text x="84">←</text></g><g id="n28-2" class="L"><ellipse cx="136.3"/><text x="136.3">←</text></g><g id="n28-3" class="L"><ellipse cx="188.5"/><text x="188.5">←</text></g><g id="n28-4" class="L"><ellipse cx="240.8"/><text x="240.8">←</text></g><g id="n28-5" class="L"><ellipse cx="293.1"/><text x="293.1">←</text></g><g id="n28-6" class="L"><ellipse cx="345.4"/><text x="345.4">←</text></g><g id="n28-7" class="L"><ellipse cx="397.6"/><text x="397.6">←</text></g><g id="n28-8" class="L"><ellipse cx="449.9"/><text x="449.9">←</text></g><g id="n28-9" class="L"><ellipse cx="502.2"/><text x="502.2">←</text></g><g id="n28-10" class="L"><ellipse cx="554.4"/><text x="554.4">←</text></g></g>
<g id="row29" class="n" transform="translate(0 1517.5)"><g id="n29-1" class="L"><ellipse cx="84"/><text x="84">→</text></g><g id="n29-2" class="L"><ellipse cx="136.3"/><text x="136.3">→</text></g><g id="n29-3" class="L"><ellipse cx="188.5"/><text x="188.5">→</text></g><g id="n29-4" class="L"><ellipse cx="240.8"/><text x="240.8">→</text></g><g id="n29-5" class="L"><ellipse cx="293.1"/><text x="293.1">→</text></g><g id="n29-6" class="L"><ellipse cx="345.4"/><text x="345.4">→</text></g><g id="n29-7" class="L"><ellipse cx="397.6"/><text x="397.6">→</text></g><g id="n29-8" class="L"><ellipse cx="449.9"/><text x="449.9">→</text></g><g id="n29-9" class="L"><ellipse cx="502.2"/><text x="502.2">→</text></g><g id="n29-10" class="L"><ellipse cx="554.4"/><text x="554.4">→</text></g></g>
<g id="row30" class="n" transform="translate(0 1569.5)"><g id="n30-1" class="L"><ellipse cx="84"/><text x="84">←</text></g><g id="n30-2" class="L"><ellipse cx="136.3"/><text x="136.3">←</text></g><g id="n30-3" class="L"><ellipse cx="188.5"/><text x="188.5">←</text></g><g id="n30-4" class="D"><ellipse cx="240.8"/><text x="240.8">←</text></g><g id="n30-5" class="D"><ellipse cx="293.1"/><text x="293.1">←</text></g><g id="n30-6" class="D"><ellipse cx="345.4"/><text x="345.4">←</text></g><g id="n30-7" class="D"><ellipse cx="397.6"/><text x="397.6">←</text></g><g id="n30-8" class="D"><ellipse cx="449.9"/><text x="449.9">←</text></g><g id="n30-9" class="L"><ellipse cx="502.2"/><text x="502.2">←</text></g><g id="n30-10" class="L"><ellipse cx="554.4"/><text x="554.4">←</text></g></g>
<g id="row31" class="n" transform="translate(0 1621.5)"><g id="n31-1" class="L"><ellipse cx="84"/><text x="84">→</text></g><g id="n31-2" class="L"><ellipse cx="136.3"/><text x="136.3">→</text></g><g id="n31-3" class="D"><ellipse cx="188.5"/><text x="188.5">→</text></g><g id="n31-4" class="D"><ellipse cx="240.8"/><text x="240.8">→</text></g><g id="n31-5" class="W"><ellipse cx="293.1"/><text x="293.1">→</text></g><g id="n31-6" class="W"><ellipse cx="345.4"/><text x="345.4">→</text></g><g id="n31-7" class="W"><ellipse cx="397.6"/><text x="397.6">→</text></g><g id="n31-8" class="D"><ellipse cx="449.9"/><text x="449.9">→</text></g><g id="n31-9" class="D"><ellipse cx="502.2"/><text x="502.2">→</text></g><g id="n31-10" class="L"><ellipse cx="554.4"/><text x="554.4">→</text></g></g>
<g id="row32" class="n" transform="translate(0 1673.5)"><g id="n32-1" class="L"><ellipse cx="84"/><text x="84">←</text></g><g id="n32-2" class="L"><ellipse cx="136.3"/><text x="136.3">←</text></g><g id="n32-3" class="D"><ellipse cx="188.5"/><text x="188.5">←</text></g><g id="n32-4" class="W"><ellipse cx="240.8"/><text x="240.8">←</text></g><g id="n32-5" class="C"><ellipse cx="293.1"/><text x="293.1">←</text></g><g id="n32-6" class="C"><ellipse cx="345.4"/><text x="345.4">←</text></g><g id="n32-7" class="C"><ellipse cx="397.6"/><text x="397.6">←</text></g><g id="n32-8" class="W"><ellipse cx="449.9"/><text x="449.9">←</text></g><g id="n32-9" class="D"><ellipse cx="502.2"/><text x="502.2">←</text></g><g id="n32-10" class="L"><ellipse cx="554.4"/><text x="554.4">←</text></g></g>
<g id="row33" class="n" transform="translate(0 1725.5)"><g id="n33-1" class="L"><ellipse cx="84"/><text x="84">→</text></g><g id="n33-2" class="L"><ellipse cx="136.3"/><text x="136.3">→</text></g><g id="n33-3" class="D"><ellipse cx="188.5"/><text x="188.5">→</text></g><g id="n33-4" class="W"><ellipse cx="240.8"/><text x="240.8">→</text></g><g id="n33-5" class="C"><ellipse cx="293.1"/><text x="293.1">→</text></g><g id="n33-6" class="G"><ellipse cx="345.4"/><text x="345.4">→</text></g><g id="n33-7" class="C"><ellipse cx="397.6"/><text x="397.6">→</text></g><g id="n33-8" class="W"><ellipse cx="449.9"/><text x="449.9">→</text></g><g id="n33-9" class="D"><ellipse cx="502.2"/><text x="502.2">→</text></g><g id="n33-10" class="L"><ellipse cx="554.4"/><text x="554.4">→</text></g></g>
<g id="row34" class="n" transform="translate(0 1777.5)"><g id="n34-1" class="L"><ellipse cx="84"/><text x="84">←</text></g><g id="n34-2" class="L"><ellipse cx="136.3"/><text x="136.3">←</text></g><g id="n34-3" class="D"><ellipse cx="188.5"/><text x="188.5">←</text></g><g id="n34-4" class="W"><ellipse cx="240.8"/><text x="240.8">←</text></g><g id="n34-5" class="C"><ellipse cx="293.1"/><text x="293.1">←</text></g><g id="n34-6" class="C"><ellipse cx="345.4"/><text x="345.4">←</text></g><g id="n34-7" class="C"><ellipse cx="397.6"/><text x="397.6">←</text></g><g id="n34-8" class="W"><ellipse cx="449.9"/><text x="449.9">←</text></g><g id="n34-9" class="D"><ellipse cx="502.2"/><text x="502.2">←</text></g><g id="n34-10" class="L"><ellipse cx="554.4"/><text x="554.4">←</text></g></g>
<g id="row35" class="n" transform="translate(0 1829.5)"><g id="n35-1" class="L"><ellipse cx="84"/><text x="84">→</text></g><g id="n35-2" class="L"><ellipse cx="136.3"/><text x="136.3">→</text></g><g id="n35-3" class="D"><ellipse cx="188.5"/><text x="188.5">→</text></g><g id="n35-4" class="D"><ellipse cx="240.8"/><text x="240.8">→</text></g><g id="n35-5" class="W"><ellipse cx="293.1"/><text x="293.1">→</text></g><g id="n35-6" class="W"><ellipse cx="345.4"/><text x="345.4">→</text></g><g id="n35-7" class="W"><ellipse cx="397.6"/><text x="397.6">→</text></g><g id="n35-8" class="D"><ellipse cx="449.9"/><text x="449.9">→</text></g><g id="n35-9" class="D"><ellipse cx="502.2"/><text x="502.2">→</text></g><g id="n35-10" class="L"><ellipse cx="554.4"/><text x="554.4">→</text></g></g>
<g id="row36" class="n" transform="translate(0 1881.5)"><g id="n36-1" class="L"><ellipse cx="84"/><text x="84">←</text></g><g id="n36-2" class="L"><ellipse cx="136.3"/><text x="136.3">←</text></g><g id="n36-3" class="L"><ellipse cx="188.5"/><text x="188.5">←</text></g><g id="n36-4" class="D"><ellipse cx="240.8"/><text x="240.8">←</text></g><g id="n36-5" class="D"><ellipse cx="293.1"/><text x="293.1">←</text></g><g id="n36-6" class="D"><ellipse cx="345.4"/><text x="345.4">←</text></g><g id="n36-7" class="D"><ellipse cx="397.6"/><text x="397.6">←</text></g><g id="n36-8" class="D"><ellipse cx="449.9"/><text x="449.9">←</text></g><g id="n36-9" class="L"><ellipse cx="502.2"/><text x="502.2">←</text></g><g id="n36-10" class="L"><ellipse cx="554.4"/><text x="554.4">←</text></g></g>
<g id="row37" class="n" transform="translate(0 1933.5)"><g id="n37-1" class="L"><ellipse cx="84"/><text x="84">→</text></g><g id="n37-2" class="L"><ellipse cx="136.3"/><text x="136.3">→</text></g><g id="n37-3" class="L"><ellipse cx="188.5"/><text x="188.5">→</text></g><g id="n37-4" class="L"><ellipse cx="240.8"/><text x="240.8">→</text></g><g id="n37-5" class="L"><ellipse cx="293.1"/><text x="293.1">→</text></g><g id="n37-6" class="L"><ellipse cx="345.4"/><text x="345.4">→</text></g><g id="n37-7" class="L"><ellipse cx="397.6"/><text x="397.6">→</text></g><g id="n37-8" class="L"><ellipse cx="449.9"/><text x="449.9">→</text></g><g id="n37-9" class="L"><ellipse cx="502.2"/><text x="502.2">→</text></g><g id="n37-10" class="L"><ellipse cx="554.4"/><text x="554.4">→</text></g></g>
<g id="row38" class="n" transform="translate(0 1985.5)"><g id="n38-1" class="L"><ellipse cx="84"/><text x="84">←</text></g><g id="n38-2" class="L"><ellipse cx="136.3"/><text x="136.3">←</text></g><g id="n38-3" class="L"><ellipse cx="188.5"/><text x="188.5">←</text></g><g id="n38-4" class="L"><ellipse cx="240.8"/><text x="240.8">←</text></g><g id="n38-5" class="L"><ellipse cx="293.1"/><text x="293.1">←</text></g><g id="n38-6" class="L"><ellipse cx="345.4"/><text x="345.4">←</text></g><g id="n38-7" class="L"><ellipse cx="397.6"/><text x="397.6">←</text></g><g id="n38-8" class="L"><ellipse cx="449.9"/><text x="449.9">←</text></g><g id="n38-9" class="L"><ellipse cx="502.2"/><text x="502.2">←</text></g><g id="n38-10" class="L"><ellipse cx="554.4"/><text x="554.4">←</text></g></g>
<g id="row39" class="n" transform="translate(0 2037.5)"><g id="n39-1" class="D"><ellipse cx="84"/><text x="84">→</text></g><g id="n39-2" class="L"><ellipse cx="136.3"/><text x="136.3">→</text></g><g id="n39-3" class="L"><ellipse cx="188.5"/><text x="188.5">→</text></g><g id="n39-4" class="L"><ellipse cx="240.8"/><text x="240.8">→</text></g><g id="n39-5" class="L"><ellipse cx="293.1"/><text x="293.1">→</text></g><g id="n39-6" class="L"><ellipse cx="345.4"/><text x="345.4">→</text></g><g id="n39-7" class="L"><ellipse cx="397.6"/><text x="397.6">→</text></g><g id="n39-8" class="L"><ellipse cx="449.9"/><text x="449.9">→</text></g><g id="n39-9" class="L"><ellipse cx="502.2"/><text x="502.2">→</text></g><g id="n39-10" class="L"><ellipse cx="554.4"/><text x="554.4">→</text></g></g>
<g id="row40" class="n" transform="translate(0 2089.5)"><g id="n40-1" class="D"><ellipse cx="84"/><text x="84">←</text></g><g id="n40-2" class="D"><ellipse cx="136.3"/><text x="136.3">←</text></g><g id="n40-3" class="L"><ellipse cx="188.5"/><text x="188.5">←</text></g><g id="n40-4" class="L"><ellipse cx="240.8"/><text x="240.8">←</text></g><g id="n40-5" class="L"><ellipse cx="293.1"/><text x="293.1">←</text></g><g id="n40-6" class="L"><ellipse cx="345.4"/><text x="345.4">←</text></g><g id="n40-7" class="L"><ellipse cx="397.6"/><text x="397.6">←</text></g><g id="n40-8" class="L"><ellipse cx="449.9"/><text x="449.9">←</text></g><g id="n40-9" class="L"><ellipse cx="502.2"/><text x="502.2">←</text></g><g id="n40-10" class="L"><ellipse cx="554.4"/><text x="554.4">←</text></g></g>
<g id="row41" class="n" transform="translate(0 2141.5)"><g id="n41-1" class="W"><ellipse cx="84"/><text x="84">→</text></g><g id="n41-2" class="D"><ellipse cx="136.3"/><text x="136.3">→</text></g><g id="n41-3" class="L"><ellipse cx="188.5"/><text x="188.5">→</text></g><g id="n41-4" class="L"><ellipse cx="240.8"/><text x="240.8">→</text></g><g id="n41-5" class="L"><ellipse cx="293.1"/><text x="293.1">→</text></g><g id="n41-6" class="L"><ellipse cx="345.4"/><text x="345.4">→</text></g><g id="n41-7" class="L"><ellipse cx="397.6"/><text x="397.6">→</text></g><g id="n41-8" class="L"><ellipse cx="449.9"/><text x="449.9">→</text></g><g id="n41-9" class="L"><ellipse cx="502.2"/><text x="502.2">→</text></g><g id="n41-10" class="L"><ellipse cx="554.4"/><text x="554.4">→</text></g></g>
<g id="row42" class="n" transform="translate(0 2193.5)"><g id="n42-1" class="W"><ellipse cx="84"/><text x="84">←</text></g><g id="n42-2" class="D"><ellipse cx="136.3"/><text x="136.3">←</text></g><g id="n42-3" class="L"><ellipse cx="188.5"/><text x="188.5">←</text></g><g id="n42-4" class="L"><ellipse cx="240.8"/><text x="240.8">←</text></g><g id="n42-5" class="L"><ellipse cx="293.1"/><text x="293.1">←</text></g><g id="n42-6" class="D"><ellipse cx="345.4"/><text x="345.4">←</text></g><g id="n42-7" class="D"><ellipse cx="397.6"/><text x="397.6">←</text></g><g id="n42-8" class="D"><ellipse cx="449.9"/><text x="449.9">←</text></g><g id="n42-9" class="D"><ellipse cx="502.2"/><text x="502.2">←</text></g><g id="n42-10" class="D"><ellipse cx="554.4"/><text x="554.4">←</text></g></g>
<g id="row43" class="n" transform="translate(0 2245.5)"><g id="n43-1" class="W"><ellipse cx="84"/><text x="84">→</text></g><g id="n43-2" class="D"><ellipse cx="136.3"/><text x="136.3">→</text></g><g id="n43-3" class="L"><ellipse cx="188.5"/><text x="188.5">→</text></g><g id="n43-4" class="L"><ellipse cx="240.8"/><text x="240.8">→</text></g><g id="n43-5" class="D"><ellipse cx="293.1"/><text x="293.1">→</text></g><g id="n43-6" class="D"><ellipse cx="345.4"/><text x="345.4">→</text></g><g id="n43-7" class="W"><ellipse cx="397.6"/><text x="397.6">→</text></g><g id="n43-8" class="W"><ellipse cx="449.9"/><text x="449.9">→</text></g><g id="n43-9" class="W"><ellipse cx="502.2"/><text x="502.2">→</text></g><g id="n43-10" class="D"><ellipse cx="554.4"/><text x="554.4">→</text></g></g>
<g id="row44" class="n" transform="translate(0 2297.5)"><g id="n44-1" class="D"><ellipse cx="84"/><text x="84">←</text></g><g id="n44-2" class="D"><ellipse cx="136.3"/><text x="136.3">←</text></g><g id="n44-3" class="L"><ellipse cx="188.5"/><text x="188.5">←</text></g><g id="n44-4" class="L"><ellipse cx="240.8"/><text x="240.8">←</text></g><g id="n44-5" class="D"><ellipse cx="293.1"/><text x="293.1">←</text></g><g id="n44-6" class="W"><ellipse cx="345.4"/><text x="345.4">←</text></g><g id="n44-7" class="C"><ellipse cx="397.6"/><text x="397.6">←</text></g><g id="n44-8" class="C"><ellipse cx="449.9"/><text x="449.9">←</text></g><g id="n44-9" class="C"><ellipse cx="502.2"/><text x="502.2">←</text></g><g id="n44-10" class="W"><ellipse cx="554.4"/><text x="554.4">←</text></g></g>
<g id="row45" class="n" transform="translate(0 2349.5)"><g id="n45-1" class="D"><ellipse cx="84"/><text x="84">→</text></g><g id="n45-2" class="L"><ellipse cx="136.3"/><text x="136.3">→</text></g><g id="n45-3" class="L"><ellipse cx="188.5"/><text x="188.5">→</text></g><g id="n45-4" class="L"><ellipse cx="240.8"/><text x="240.8">→</text></g><g id="n45-5" class="D"><ellipse cx="293.1"/><text x="293.1">→</text></g><g id="n45-6" class="W"><ellipse cx="345.4"/><text x="345.4">→</text></g><g id="n45-7" class="C"><ellipse cx="397.6"/><text x="397.6">→</text></g><g id="n45-8" class="G"><ellipse cx="449.9"/><text x="449.9">→</text></g><g id="n45-9" class="C"><ellipse cx="502.2"/><text x="502.2">→</text></g><g id="n45-10" class="W"><ellipse cx="554.4"/><text x="554.4">→</text></g></g>
<g id="row46" class="n" transform="translate(0 2401.5)"><g id="n46-1" class="L"><ellipse cx="84"/><text x="84">←</text></g><g id="n46-2" class="L"><ellipse cx="136.3"/><text x="136.3">←</text></g><g id="n46-3" class="L"><ellipse cx="188.5"/><text x="188.5">←</text></g><g id="n46-4" class="L"><ellipse cx="240.8"/><text x="240.8">←</text></g><g id="n46-5" class="D"><ellipse cx="293.1"/><text x="293.1">←</text></g><g id="n46-6" class="W"><ellipse cx="345.4"/><text x="345.4">←</text></g><g id="n46-7" class="C"><ellipse cx="397.6"/><text x="397.6">←</text></g><g id="n46-8" class="C"><ellipse cx="449.9"/><text x="449.9">←</text></g><g id="n46-9" class="C"><ellipse cx="502.2"/><text x="502.2">←</text></g><g id="n46-10" class="W"><ellipse cx="554.4"/><text x="554.4">←</text></g></g>
<g id="row47" class="n" transform="translate(0 2453.5)"><g id="n47-1" class="L"><ellipse cx="84"/><text x="84">→</text></g><g id="n47-2" class="L"><ellipse cx="136.3"/><text x="136.3">→</text></g><g id="n47-3" class="L"><ellipse cx="188.5"/><text x="188.5">→</text></g><g id="n47-4" class="L"><ellipse cx="240.8"/><text x="240.8">→</text></g><g id="n47-5" class="D"><ellipse cx="293.1"/><text x="293.1">→</text></g><g id="n47-6" class="D"><ellipse cx="345.4"/><text x="345.4">→</text></g><g id="n47-7" class="W"><ellipse cx="397.6"/><text x="397.6">→</text></g><g id="n47-8" class="W"><ellipse cx="449.9"/><text x="449.9">→</text></g><g id="n47-9" class="W"><ellipse cx="502.2"/><text x="502.2">→</text></g><g id="n47-10" class="D"><ellipse cx="554.4"/><text x="554.4">→</text></g></g>
<g id="row48" class="n" transform="translate(0 2505.5)"><g id="n48-1" class="L"><ellipse cx="84"/><text x="84">←</text></g><g id="n48-2" class="L"><ellipse cx="136.3"/><text x="136.3">←</text></g><g id="n48-3" class="L"><ellipse cx="188.5"/><text x="188.5">←</text></g><g id="n48-4" class="L"><ellipse cx="240.8"/><text x="240.8">←</text></g><g id="n48-5" class="L"><ellipse cx="293.1"/><text x="293.1">←</text></g><g id="n48-6" class="D"><ellipse cx="345.4"/><text x="345.4">←</text></g><g id="n48-7" class="D"><ellipse cx="397.6"/><text x="397.6">←</text></g><g id="n48-8" class="D"><ellipse cx="449.9"/><text x="449.9">←</text></g><g id="n48-9" class="D"><ellipse cx="502.2"/><text x="502.2">←</text></g><g id="n48-10" class="D"><ellipse cx="554.4"/><text x="554.4">←</text></g></g>
<g id="row49" class="n" transform="translate(0 2557.5)"><g id="n49-1" class="L"><ellipse cx="84"/><text x="84">→</text></g><g id="n49-2" class="L"><ellipse cx="136.3"/><text x="136.3">→</text></g><g id="n49-3" class="L"><ellipse cx="188.5"/><text x="188.5">→</text></g><g id="n49-4" class="L"><ellipse cx="240.8"/><text x="240.8">→</text></g><g id="n49-5" class="L"><ellipse cx="293.1"/><text x="293.1">→</text></g><g id="n49-6" class="L"><ellipse cx="345.4"/><text x="345.4">→</text></g><g id="n49-7" class="L"><ellipse cx="397.6"/><text x="397.6">→</text></g><g id="n49-8" class="L"><ellipse cx="449.9"/><text x="449.9">→</text></g><g id="n49-9" class="L"><ellipse cx="502.2"/><text x="502.2">→</text></g><g id="n49-10" class="L"><ellipse cx="554.4"/><text x="554.4">→</text></g></g>
<g id="row50" class="n" transform="translate(0 2609.5)"><g id="n50-1" class="L"><ellipse cx="84"/><text x="84">←</text></g><g id="n50-2" class="L"><ellipse cx="136.3"/><text x="136.3">←</text></g><g id="n50-3" class="L"><ellipse cx="188.5"/><text x="188.5">←</text></g><g id="n50-4" class="L"><ellipse cx="240.8"/><text x="240.8">←</text></g><g id="n50-5" class="L"><ellipse cx="293.1"/><text x="293.1">←</text></g><g id="n50-6" class="L"><ellipse cx="345.4"/><text x="345.4">←</text></g><g id="n50-7" class="L"><ellipse cx="397.6"/><text x="397.6">←</text></g><g id="n50-8" class="L"><ellipse cx="449.9"/><text x="449.9">←</text></g><g id="n50-9" class="L"><ellipse cx="502.2"/><text x="502.2">←</text></g><g id="n50-10" class="L"><ellipse cx="554.4"/><text x="554.4">←</text></g></g>
<g id="row51" class="n" transform="translate(0 2661.5)"><g id="n51-1" class="L"><ellipse cx="84"/><text x="84">→</text></g><g id="n51-2" class="L"><ellipse cx="136.3"/><text x="136.3">→</text></g><g id="n51-3" class="L"><ellipse cx="188.5"/><text x="188.5">→</text></g><g id="n51-4" class="L"><ellipse cx="240.8"/><text x="240.8">→</text></g><g id="n51-5" class="L"><ellipse cx="293.1"/><text x="293.1">→</text></g><g id="n51-6" class="L"><ellipse cx="345.4"/><text x="345.4">→</text></g><g id="n51-7" class="L"><ellipse cx="397.6"/><text x="397.6">→</text></g><g id="n51-8" class="L"><ellipse cx="449.9"/><text x="449.9">→</text></g><g id="n51-9" class="L"><ellipse cx="502.2"/><text x="502.2">→</text></g><g id="n51-10" class="L"><ellipse cx="554.4"/><text x="554.4">→</text></g></g>
<g id="row52" class="n" transform="translate(0 2713.5)"><g id="n52-1" class="L"><ellipse cx="84"/><text x="84">←</text></g><g id="n52-2" class="L"><ellipse cx="136.3"/><text x="136.3">←</text></g><g id="n52-3" class="D"><ellipse cx="188.5"/><text x="188.5">←</text></g><g id="n52-4" class="D"><ellipse cx="240.8"/><text x="240.8">←</text></g><g id="n52-5" class="D"><ellipse cx="293.1"/><text x="293.1">←</text></g><g id="n52-6" class="D"><ellipse cx="345.4"/><text x="345.4">←</text></g><g id="n52-7" class="D"><ellipse cx="397.6"/><text x="397.6">←</text></g><g id="n52-8" class="L"><ellipse cx="449.9"/><text x="449.9">←</text></g><g id="n52-9" class="L"><ellipse cx="502.2"/><text x="502.2">←</text></g><g id="n52-10" class="L"><ellipse cx="554.4"/><text x="554.4">←</text></g></g>
<g id="row53" class="n" transform="translate(0 2765.5)"><g id="n53-1" class="L"><ellipse cx="84"/><text x="84">→</text></g><g id="n53-2" class="D"><ellipse cx="136.3"/><text x="136.3">→</text></g><g id="n53-3" class="D"><ellipse cx="188.5"/><text x="188.5">→</text></g><g id="n53-4" class="W"><ellipse cx="240.8"/><text x="240.8">→</text></g><g id="n53-5" class="W"><ellipse cx="293.1"/><text x="293.1">→</text></g><g id="n53-6" class="W"><ellipse cx="345.4"/><text x="345.4">→</text></g><g id="n53-7" class="D"><ellipse cx="397.6"/><text x="397.6">→</text></g><g id="n53-8" class="D"><ellipse cx="449.9"/><text x="449.9">→</text></g><g id="n53-9" class="L"><ellipse cx="502.2"/><text x="502.2">→</text></g><g id="n53-10" class="L"><ellipse cx="554.4"/><text x="554.4">→</text></g></g>
<g id="row54" class="n" transform="translate(0 2817.5)"><g id="n54-1" class="L"><ellipse cx="84"/><text x="84">←</text></g><g id="n54-2" class="D"><ellipse cx="136.3"/><text x="136.3">←</text></g><g id="n54-3" class="W"><ellipse cx="188.5"/><text x="188.5">←</text></g><g id="n54-4" class="C"><ellipse cx="240.8"/><text x="240.8">←</text></g><g id="n54-5" class="C"><ellipse cx="293.1"/><text x="293.1">←</text></g><g id="n54-6" class="C"><ellipse cx="345.4"/><text x="345.4">←</text></g><g id="n54-7" class="W"><ellipse cx="397.6"/><text x="397.6">←</text></g><g id="n54-8" class="D"><ellipse cx="449.9"/><text x="449.9">←</text></g><g id="n54-9" class="L"><ellipse cx="502.2"/><text x="502.2">←</text></g><g id="n54-10" class="L"><ellipse cx="554.4"/><text x="554.4">←</text></g></g>
<g id="row55" class="n" transform="translate(0 2869.5)"><g id="n55-1" class="L"><ellipse cx="84"/><text x="84">→</text></g><g id="n55-2" class="D"><ellipse cx="136.3"/><text x="136.3">→</text></g><g id="n55-3" class="W"><ellipse cx="188.5"/><text x="188.5">→</text></g><g id="n55-4" class="C"><ellipse cx="240.8"/><text x="240.8">→</text></g><g id="n55-5" class="G"><ellipse cx="293.1"/><text x="293.1">→</text></g><g id="n55-6" class="C"><ellipse cx="345.4"/><text x="345.4">→</text></g><g id="n55-7" class="W"><ellipse cx="397.6"/><text x="397.6">→</text></g><g id="n55-8" class="D"><ellipse cx="449.9"/><text x="449.9">→</text></g><g id="n55-9" class="L"><ellipse cx="502.2"/><text x="502.2">→</text></g><g id="n55-10" class="L"><ellipse cx="554.4"/><text x="554.4">→</text></g></g>
<g id="row56" class="n" transform="translate(0 2921.5)"><g id="n56-1" class="L"><ellipse cx="84"/><text x="84">←</text></g><g id="n56-2" class="D"><ellipse cx="136.3"/><text x="136.3">←</text></g><g id="n56-3" class="W"><ellipse cx="188.5"/><text x="188.5">←</text></g><g id="n56-4" class="C"><ellipse cx="240.8"/><text x="240.8">←</text></g><g id="n56-5" class="C"><ellipse cx="293.1"/><text x="293.1">←</text></g><g id="n56-6" class="C"><ellipse cx="345.4"/><text x="345.4">←</text></g><g id="n56-7" class="W"><ellipse cx="397.6"/><text x="397.6">←</text></g><g id="n56-8" class="D"><ellipse cx="449.9"/><text x="449.9">←</text></g><g id="n56-9" class="L"><ellipse cx="502.2"/><text x="502.2">←</text></g><g id="n56-10" class="L"><ellipse cx="554.4"/><text x="554.4">←</text></g></g>
<g id="row57" class="n" transform="translate(0 2973.5)"><g id="n57-1" class="L"><ellipse cx="84"/><text x="84">→</text></g><g id="n57-2" class="D"><ellipse cx="136.3"/><text x="136.3">→</text></g><g id="n57-3" class="D"><ellipse cx="188.5"/><text x="188.5">→</text></g><g id="n57-4" class="W"><ellipse cx="240.8"/><text x="240.8">→</text></g><g id="n57-5" class="W"><ellipse cx="293.1"/><text x="293.1">→</text></g><g id="n57-6" class="W"><ellipse cx="345.4"/><text x="345.4">→</text></g><g id="n57-7" class="D"><ellipse cx="397.6"/><text x="397.6">→</text></g><g id="n57-8" class="D"><ellipse cx="449.9"/><text x="449.9">→</text></g><g id="n57-9" class="L"><ellipse cx="502.2"/><text x="502.2">→</text></g><g id="n57-10" class="L"><ellipse cx="554.4"/><text x="554.4">→</text></g></g>
<g id="row58" class="n" transform="translate(0 3025.5)"><g id="n58-1" class="L"><ellipse cx="84"/><text x="84">←</text></g><g id="n58-2" class="L"><ellipse cx="136.3"/><text x="136.3">←</text></g><g id="n58-3" class="D"><ellipse cx="188.5"/><text x="188.5">←</text></g><g id="n58-4" class="D"><ellipse cx="240.8"/><text x="240.8">←</text></g><g id="n58-5" class="D"><ellipse cx="293.1"/><text x="293.1">←</text></g><g id="n58-6" class="D"><ellipse cx="345.4"/><text x="345.4">←</text></g><g id="n58-7" class="D"><ellipse cx="397.6"/><text x="397.6">←</text></g><g id="n58-8" class="L"><ellipse cx="449.9"/><text x="449.9">←</text></g><g id="n58-9" class="L"><ellipse cx="502.2"/><text x="502.2">←</text></g><g id="n58-10" class="L"><ellipse cx="554.4"/><text x="554.4">←</text></g></g>
<g id="row59" class="n" transform="translate(0 3077.5)"><g id="n59-1" class="L"><ellipse cx="84"/><text x="84">→</text></g><g id="n59-2" class="L"><ellipse cx="136.3"/><text x="136.3">→</text></g><g id="n59-3" class="L"><ellipse cx="188.5"/><text x="188.5">→</text></g><g id="n59-4" class="L"><ellipse cx="240.8"/><text x="240.8">→</text></g><g id="n59-5" class="L"><ellipse cx="293.1"/><text x="293.1">→</text></g><g id="n59-6" class="L"><ellipse cx="345.4"/><text x="345.4">→</text></g><g id="n59-7" class="L"><ellipse cx="397.6"/><text x="397.6">→</text></g><g id="n59-8" class="L"><ellipse cx="449.9"/><text x="449.9">→</text></g><g id="n59-9" class="L"><ellipse cx="502.2"/><text x="502.2">→</text></g><g id="n59-10" class="L"><ellipse cx="554.4"/><text x="554.4">→</text></g></g>
<g id="row60" class="n" transform="translate(0 3129.5)"><g id="n60-1" class="L"><ellipse cx="84"/><text x="84">←</text></g><g id="n60-2" class="L"><ellipse cx="136.3"/><text x="136.3">←</text></g><g id="n60-3" class="L"><ellipse cx="188.5"/><text x="188.5">←</text></g><g id="n60-4" class="L"><ellipse cx="240.8"/><text x="240.8">←</text></g><g id="n60-5" class="L"><ellipse cx="293.1"/><text x="293.1">←</text></g><g id="n60-6" class="L"><ellipse cx="345.4"/><text x="345.4">←</text></g><g id="n60-7" class="L"><ellipse cx="397.6"/><text x="397.6">←</text></g><g id="n60-8" class="L"><ellipse cx="449.9"/><text x="449.9">←</text></g><g id="n60-9" class="L"><ellipse cx="502.2"/><text x="502.2">←</text></g><g id="n60-10" class="L"><ellipse cx="554.4"/><text x="554.4">←</text></g></g>
<g id="row61" class="n" transform="translate(0 3181.5)"><g id="n61-1" class="D"><ellipse cx="84"/><text x="84">→</text></g><g id="n61-2" class="D"><ellipse cx="136.3"/><text x="136.3">→</text></g><g id="n61-3" class="L"><ellipse cx="188.5"/><text x="188.5">→</text></g><g id="n61-4" class="L"><ellipse cx="240.8"/><text x="240.8">→</text></g><g id="n61-5" class="L"><ellipse cx="293.1"/><text x="293.1">→</text></g><g id="n61-6" class="L"><ellipse cx="345.4"/><text x="345.4">→</text></g><g id="n61-7" class="L"><ellipse cx="397.6"/><text x="397.6">→</text></g><g id="n61-8" class="L"><ellipse cx="449.9"/><text x="449.9">→</text></g><g id="n61-9" class="L"><ellipse cx="502.2"/><text x="502.2">→</text></g><g id="n61-10" class="L"><ellipse cx="554.4"/><text x="554.4">→</text></g></g>
<g id="row62" class="n" transform="translate(0 3233.5)"><g id="n62-1" class="W"><ellipse cx="84"/><text x="84">←</text></g><g id="n62-2" class="D"><ellipse cx="136.3"/><text x="136.3">←</text></g><g id="n62-3" class="D"><ellipse cx="188.5"/><text x="188.5">←</text></g><g id="n62-4" class="L"><ellipse cx="240.8"/><text x="240.8">←</text></g><g id="n62-5" class="L"><ellipse cx="293.1"/><text x="293.1">←</text></g><g id="n62-6" class="L"><ellipse cx="345.4"/><text x="345.4">←</text></g><g id="n62-7" class="L"><ellipse cx="397.6"/><text x="397.6">←</text></g><g id="n62-8" class="L"><ellipse cx="449.9"/><text x="449.9">←</text></g><g id="n62-9" class="L"><ellipse cx="502.2"/><text x="502.2">←</text></g><g id="n62-10" class="L"><ellipse cx="554.4"/><text x="554.4">←</text></g></g>
<g id="row63" class="n" transform="translate(0 3285.5)"><g id="n63-1" class="C"><ellipse cx="84"/><text x="84">→</text></g><g id="n63-2" class="W"><ellipse cx="136.3"/><text x="136.3">→</text></g><g id="n63-3" class="D"><ellipse cx="188.5"/><text x="188.5">→</text></g><g id="n63-4" class="L"><ellipse cx="240.8"/><text x="240.8">→</text></g><g id="n63-5" class="L"><ellipse cx="293.1"/><text x="293.1">→</text></g><g id="n63-6" class="L"><ellipse cx="345.4"/><text x="345.4">→</text></g><g id="n63-7" class="L"><ellipse cx="397.6"/><text x="397.6">→</text></g><g id="n63-8" class="L"><ellipse cx="449.9"/><text x="449.9">→</text></g><g id="n63-9" class="L"><ellipse cx="502.2"/><text x="502.2">→</text></g><g id="n63-10" class="L"><ellipse cx="554.4"/><text x="554.4">→</text></g></g>
<g id="row64" class="n" transform="translate(0 3337.5)"><g id="n64-1" class="C"><ellipse cx="84"/><text x="84">←</text></g><g id="n64-2" class="W"><ellipse cx="136.3"/><text x="136.3">←</text></g><g id="n64-3" class="D"><ellipse cx="188.5"/><text x="188.5">←</text></g><g id="n64-4" class="L"><ellipse cx="240.8"/><text x="240.8">←</text></g><g id="n64-5" class="L"><ellipse cx="293.1"/><text x="293.1">←</text></g><g id="n64-6" class="L"><ellipse cx="345.4"/><text x="345.4">←</text></g><g id="n64-7" class="L"><ellipse cx="397.6"/><text x="397.6">←</text></g><g id="n64-8" class="D"><ellipse cx="449.9"/><text x="449.9">←</text></g><g id="n64-9" class="D"><ellipse cx="502.2"/><text x="502.2">←</text></g><g id="n64-10" class="D"><ellipse cx="554.4"/><text x="554.4">←</text></g></g>
</g>
<text class="wm" x="320" y="1700">BRACELETBOOK.COM</text>
</svg>
